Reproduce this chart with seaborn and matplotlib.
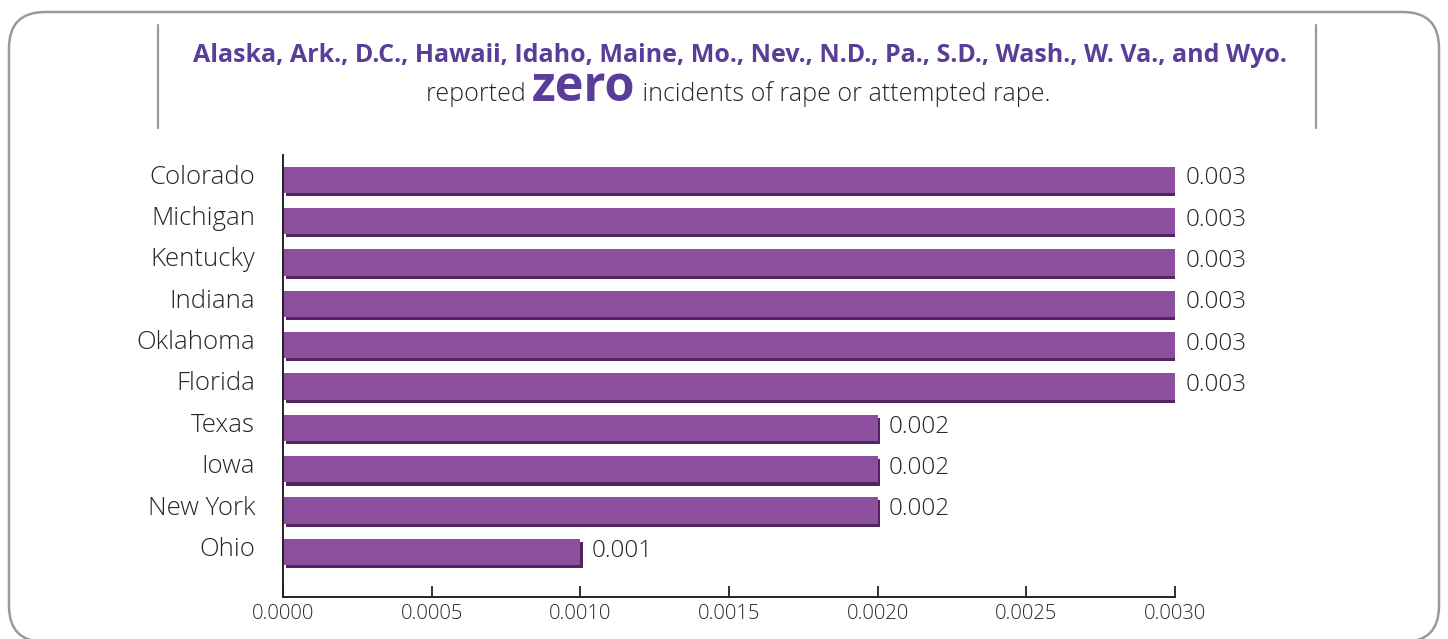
import numpy as np
import pandas as pd
import matplotlib
matplotlib.use("Agg")
import matplotlib.pyplot as plt
import matplotlib.patheffects as pe
from matplotlib.patches import FancyBboxPatch
from matplotlib.transforms import IdentityTransform, ScaledTranslation
import seaborn as sns

# Data
states = ["Colorado", "Michigan", "Kentucky", "Indiana", "Oklahoma",
          "Florida", "Texas", "Iowa", "New York", "Ohio"]
rates = [0.003, 0.003, 0.003, 0.003, 0.003, 0.003, 0.002, 0.002, 0.002, 0.001]
x_ticks = [0.0, 0.0005, 0.0010, 0.0015, 0.0020, 0.0025, 0.0030]
title_states = "Alaska, Ark., D.C., Hawaii, Idaho, Maine, Mo., Nev., N.D., Pa., S.D., Wash., W. Va., and Wyo."

df = pd.DataFrame({"state": states, "rate": rates})

PURPLE = "#8b4f9e"
SHADOW = "#532560"
TITLE_PURPLE = "#5a3d99"
TEXT = "#262626"
GREY = "#9a9a9a"

sns.set_theme(style="white")
plt.rcParams["font.family"] = ["Open Sans", "DejaVu Sans"]

W, H, DPI = 1448, 639, 100
fig = plt.figure(figsize=(W / DPI, H / DPI), dpi=DPI)
ax = fig.add_axes([283 / W, 1 - 597 / H, (1175 - 283) / W, (597 - 155) / H])

sns.barplot(data=df, x="rate", y="state", orient="h", color=PURPLE,
            width=0.64, saturation=1, ax=ax, errorbar=None)

for bar in ax.patches:
    bar.set_edgecolor("none")
    bar.set_path_effects([pe.SimplePatchShadow(offset=(1.8, -2.2), shadow_rgbFace=SHADOW, alpha=1),
                          pe.Normal()])

for i, v in enumerate(rates):
    ax.annotate(f"{v:.3f}", xy=(v, i), xytext=(8, 1), textcoords="offset points",
                va="center", ha="left", fontsize=17.5, color=TEXT, fontweight="light")

ax.set_xlim(0, 0.003)
ax.set_ylim(len(states) - 1 + 1.09, -0.6)
ax.set_xticks(x_ticks)
ax.set_xticklabels([f"{t:.4f}" for t in x_ticks], fontsize=14.5, color=TEXT, fontweight="light")
ax.tick_params(axis="x", direction="in", length=8, width=1.3, color="#222222", pad=5, bottom=True)
ax.tick_params(axis="y", length=0, labelsize=18.5, labelcolor=TEXT, pad=20)
for lab in ax.get_yticklabels():
    lab.set_fontweight("light")
    lab.set_transform(lab.get_transform() + ScaledTranslation(0, 4 / 72, fig.dpi_scale_trans))
ax.set_xlabel("")
ax.set_ylabel("")
sns.despine(ax=ax, top=True, right=True)
for s in ["left", "bottom"]:
    ax.spines[s].set_color("#222222")
    ax.spines[s].set_linewidth(1.4)
ax.patch.set_alpha(0)

# frame and header decoration
fig.patches.append(FancyBboxPatch((9, -3), W - 18, H - 9, boxstyle="round,pad=0,rounding_size=36",
                                  transform=IdentityTransform(), facecolor="none",
                                  edgecolor=GREY, linewidth=1.8, figure=fig))
for xp in [158, 1316]:
    fig.add_artist(plt.Line2D([xp / W, xp / W], [1 - 25 / H, 1 - 128 / H],
                              color=GREY, linewidth=1.6, transform=fig.transFigure))

fig.text(740 / W, 1 - 56 / H, title_states, ha="center", va="center",
         fontsize=18, fontweight="bold", color=TITLE_PURPLE)

# second header line: three runs of text on one baseline
base_y = 1 - 101 / H
parts = [("reported ", 18, "light", TEXT),
         ("zero", 35, "bold", TITLE_PURPLE),
         (" incidents of rape or attempted rape.", 18, "light", TEXT)]
renderer = fig.canvas.get_renderer()
texts = [fig.text(0, base_y, s, fontsize=fs, fontweight=fw, color=c, va="baseline", ha="left")
         for s, fs, fw, c in parts]
widths = [t.get_window_extent(renderer).width for t in texts]
x = 738 - sum(widths) / 2
for t, w in zip(texts, widths):
    t.set_x(x / W)
    x += w

fig.savefig("out.png", dpi=DPI)
